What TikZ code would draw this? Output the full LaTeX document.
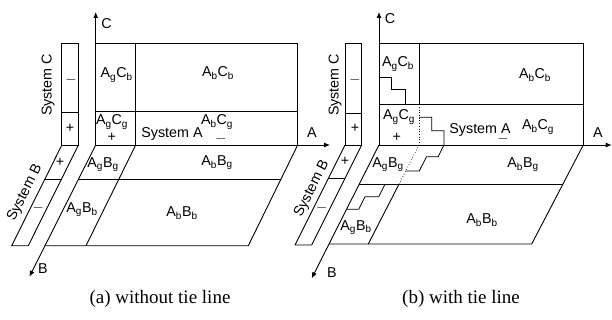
\documentclass[tikz,border=0pt]{standalone}
\usepackage{fontspec}
\setmainfont{Liberation Sans}
\newfontfamily\capfont{Liberation Serif}
\usetikzlibrary{arrows.meta}
\begin{document}
\begin{tikzpicture}[x=1pt,y=-1pt, line width=0.9pt, line join=miter,
  lbl/.style={inner sep=0pt, font=\fontsize{14.3}{16}\selectfont},
  axis/.style={-{Latex[length=6pt,width=5pt]}},
  tie/.style={line width=0.8pt},
  dots/.style={dotted, line width=0.7pt},
  thinline/.style={line width=0.6pt},
  captext/.style={inner sep=0pt, font=\capfont\fontsize{19}{22}\selectfont}]
\useasboundingbox (0,0) rectangle (612,320);

% ================= LEFT PANEL =================
\coordinate (aO) at (95.7,145);
\coordinate (aCt) at (95.7,12);
\coordinate (aAt) at (330,145);
\coordinate (aBt) at (29.4,276.7);
\coordinate (aTR) at (297.7,43.3);
\coordinate (aTL) at (95.7,43.3);
\coordinate (aRR) at (297.7,145);
\coordinate (aBR) at (248.3,245.7);
\coordinate (aBL) at (45,245.7);
% top rectangle
\draw (aTL) -- (aTR) -- (aRR);
\draw (95.7,111.7) -- (297.7,111.7);
\draw (135.7,43.3) -- (135.7,145);
% floor
\draw (aRR) -- (aBR) -- (aBL);
\draw (78.6,179) -- (281,179);
\draw (135.7,145) -- (86,245.7);
% axes
\draw[axis] (aO) -- (aCt);
\draw[axis] (aO) -- (aAt);
\draw[axis] (aO) -- (aBt);
\node[lbl] (aClab) at (106.5,24) {C};
\node[lbl] (aAlab) at (312,133) {A};
\node[lbl] (aBlab) at (43,269) {B};
% system bars
\draw (61.7,43.3) rectangle (78.3,145.3);
\draw[thinline] (61.7,112.3) -- (78.3,112.3);
\draw (61.7,145.3) -- (11.7,245.7) -- (28.3,245.7) -- (78.3,145.3);
\draw[thinline] (44.5,179) -- (61.2,179);
\node[lbl, rotate=90] (aSC) at (48,85) {System C};
\node[lbl] (aCm) at (71,80) {$-$};
\node[lbl] (aCp) at (70,128) {+};
\node[lbl, rotate=63.4] (aSB) at (25,193) {System B};
\node[lbl] (aBp) at (60,162) {+};
\node[lbl] (aBm) at (38.3,208.3) {$-$};
% region labels
\node[lbl] (a1) at (116.7,75) {A\textsubscript{g}C\textsubscript{b}};
\node[lbl] (a2) at (218,73) {A\textsubscript{b}C\textsubscript{b}};
\node[lbl] (a3) at (112,122) {A\textsubscript{g}C\textsubscript{g}};
\node[lbl] (a3p) at (111.7,137) {+};
\node[lbl] (aSA) at (172,134) {System A};
\node[lbl] (a4) at (217,122) {A\textsubscript{b}C\textsubscript{g}};
\node[lbl] (a4m) at (221,138.5) {$-$};
\node[lbl] (a5) at (103,165) {A\textsubscript{g}B\textsubscript{g}};
\node[lbl] (a6) at (217,163) {A\textsubscript{b}B\textsubscript{g}};
\node[lbl] (a7) at (82,210) {A\textsubscript{g}B\textsubscript{b}};
\node[lbl] (a8) at (182,213) {A\textsubscript{b}B\textsubscript{b}};
\node[captext] (capa) at (160,299) {(a) without tie line};

% ================= RIGHT PANEL =================
\coordinate (bO) at (379,145);
\coordinate (bCt) at (379,12);
\coordinate (bAt) at (611.7,145);
\coordinate (bBt) at (311.7,278.3);
\coordinate (bTL) at (379,43.3);
\coordinate (bTR) at (583.3,43.3);
\coordinate (bRR) at (583.3,145);
\coordinate (bBR) at (531.7,244);
\coordinate (bBL) at (329,244);
% top rectangle
\draw (bTL) -- (bTR) -- (bRR);
\draw (379,104.3) -- (583.3,104.3);
\draw[thinline] (419,43.3) -- (419,104.3);
\draw[dots] (419,104.3) -- (419,145);
% floor
\draw (bRR) -- (bBR) -- (bBL);
\draw (359.2,184.3) -- (562.8,184.3);
\draw[dots] (419,145) -- (398.9,184.3);
\draw (398.9,184.3) -- (368.3,244);
% axes
\draw[axis] (bO) -- (bCt);
\draw[axis] (bO) -- (bAt);
\draw[axis] (bO) -- (bBt);
\node[lbl] (bClab) at (390,19) {C};
\node[lbl] (bAlab) at (598,133) {A};
\node[lbl] (bBlab) at (332,272.5) {B};
% tie lines
\draw[tie] (379,77.3) -- (391.7,77.3) -- (391.7,89.3) -- (405,89.3) -- (405,104.3);
\draw[tie] (419,117.3) -- (431.7,117.3) -- (431.7,130.7) -- (444,130.7) -- (444,145)
  -- (438.2,156.7) -- (426.5,156.7) -- (419.3,171) -- (405.7,171);
\draw[tie] (385,184.3) -- (378.8,196.7) -- (365,196.7) -- (358.7,209.3) -- (346.5,209.3);
% system bars
\draw (345,43.3) rectangle (361.7,145);
\draw[thinline] (345,113.3) -- (361.7,113.3);
\draw (345,145) -- (295,245) -- (311.7,245) -- (361.7,145);
\draw[thinline] (328.3,178.3) -- (345,178.3);
\node[lbl, rotate=90] (bSC) at (335,85) {System C};
\node[lbl] (bCm) at (355,80) {$-$};
\node[lbl] (bCp) at (355,128) {+};
\node[lbl, rotate=63.4] (bSB) at (312,189) {System B};
\node[lbl] (bBp) at (345,161.7) {+};
\node[lbl] (bBm) at (321.7,208.3) {$-$};
% region labels
\node[lbl] (b1) at (398,64) {A\textsubscript{g}C\textsubscript{b}};
\node[lbl] (b2) at (535,75) {A\textsubscript{b}C\textsubscript{b}};
\node[lbl] (b3) at (399,117) {A\textsubscript{g}C\textsubscript{g}};
\node[lbl] (b3p) at (396.7,137) {+};
\node[lbl] (bSA) at (480,130) {System A};
\node[lbl] (bSAm) at (503,139) {$-$};
\node[lbl] (b4) at (538,127) {A\textsubscript{b}C\textsubscript{g}};
\node[lbl] (b5) at (388,165) {A\textsubscript{g}B\textsubscript{g}};
\node[lbl] (b6) at (523,165) {A\textsubscript{b}B\textsubscript{g}};
\node[lbl] (b7) at (356,227.5) {A\textsubscript{g}B\textsubscript{b}};
\node[lbl] (b8) at (482,220) {A\textsubscript{b}B\textsubscript{b}};
\node[captext] (capb) at (461,299) {(b) with tie line};
\end{tikzpicture}
\end{document}
